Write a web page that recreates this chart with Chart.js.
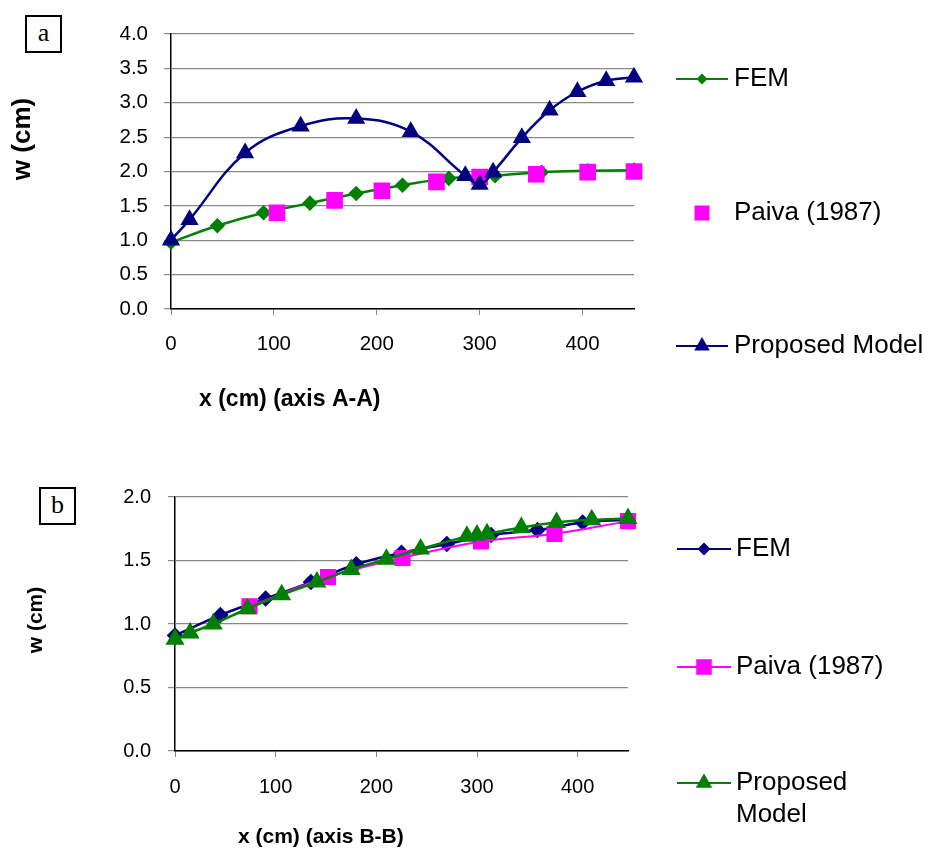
<!DOCTYPE html>
<html>
<head>
<meta charset="utf-8">
<script src="https://cdn.jsdelivr.net/npm/chart.js"></script>
<style>
  body { margin: 0; background: #fff; }
  #page { position: relative; width: 928px; height: 850px; overflow: hidden; background: #fff; }
  canvas { position: absolute; left: 0; }
  .tag {
    position: absolute; box-sizing: border-box; width: 37px; height: 38px;
    border: 2px solid #000; background: #fff;
    font-family: "Liberation Serif", "Times New Roman", serif; font-size: 26px;
    text-align: center; line-height: 32px;
  }
</style>
</head>
<body>
<div id="page">
  <canvas id="chartA" width="928" height="425" style="top:0"></canvas>
  <canvas id="chartB" width="928" height="425" style="top:425px"></canvas>
  <div class="tag" style="left:25px; top:15px">a</div>
  <div class="tag" style="left:39px; top:487px">b</div>
</div>
<script>
const seriesNames = ['FEM', 'Paiva (1987)', 'Proposed Model'];

// panel a - axis A-A
const femXA = [0, 45, 90, 135, 180, 225, 270, 315, 360, 405, 450];
const femWA = [0.97, 1.21, 1.40, 1.54, 1.68, 1.80, 1.90, 1.94, 1.99, 2.01, 2.02];
const paivaXA = [103, 159, 205, 258, 300, 355, 405, 450];
const paivaWA = [1.40, 1.58, 1.72, 1.85, 1.92, 1.96, 1.99, 2.00];
const propXA = [0, 18, 72, 126, 180, 233, 286, 300, 313, 341, 368, 395, 423, 450];
const propWA = [1.00, 1.30, 2.27, 2.66, 2.77, 2.58, 1.94, 1.81, 1.99, 2.49, 2.89, 3.16, 3.32, 3.37];

// panel b - axis B-B
const femXB = [0, 45, 90, 135, 180, 225, 270, 314, 360, 405, 450];
const femWB = [0.91, 1.07, 1.20, 1.33, 1.47, 1.56, 1.63, 1.70, 1.74, 1.80, 1.82];
const paivaXB = [74, 152, 226, 304, 377, 450];
const paivaWB = [1.14, 1.37, 1.52, 1.65, 1.71, 1.81];
const propXB = [0, 15, 38, 72, 106, 141, 175, 210, 244, 290, 300, 310, 344, 379, 414, 450];
const propWB = [0.88, 0.93, 1.00, 1.12, 1.23, 1.33, 1.43, 1.51, 1.59, 1.69, 1.70, 1.71, 1.76, 1.80, 1.82, 1.83];

const NAVY = '#000080';
const GREEN = '#008000';
const MAGENTA = '#FF00FF';
const FONT = '"Liberation Sans", Arial, sans-serif';

Chart.defaults.font.family = FONT;
Chart.defaults.color = '#000';

function toPoints(xs, ys) {
    return xs.map((x, i) => ({ x: x, y: ys[i] }));
}

// marker shapes like chart.js pointStyle, used for the legend
function drawMarker(ctx, style, x, y, r, color) {
    ctx.beginPath();
    if (style === 'rectRot') {
        ctx.moveTo(x, y - r);
        ctx.lineTo(x + r, y);
        ctx.lineTo(x, y + r);
        ctx.lineTo(x - r, y);
    } else if (style === 'rect') {
        const h = r * Math.SQRT1_2;
        ctx.rect(x - h, y - h, 2 * h, 2 * h);
    } else if (style === 'triangle') {
        ctx.moveTo(x, y - r);
        ctx.lineTo(x + r * Math.sin(Math.PI / 3), y + r / 2);
        ctx.lineTo(x - r * Math.sin(Math.PI / 3), y + r / 2);
    }
    ctx.closePath();
    ctx.fillStyle = color;
    ctx.fill();
}

// axis titles and the side legend, placed like the paper figure
const paperDecor = {
    id: 'paperDecor',
    afterDraw(chart, args, opts) {
        const ctx = chart.ctx;
        ctx.save();
        ctx.fillStyle = '#000';
        ctx.textBaseline = 'middle';

        ctx.font = `bold ${opts.xTitle.size}px ${FONT}`;
        ctx.textAlign = 'left';
        ctx.fillText(opts.xTitle.text, opts.xTitle.x, opts.xTitle.y);

        ctx.save();
        ctx.translate(opts.yTitle.x, opts.yTitle.y);
        ctx.rotate(-Math.PI / 2);
        ctx.textAlign = 'center';
        ctx.font = `bold ${opts.yTitle.size}px ${FONT}`;
        ctx.fillText(opts.yTitle.text, 0, 0);
        ctx.restore();

        const lg = opts.legend;
        chart.data.datasets.forEach((ds, i) => {
            const y = lg.y[i];
            if (ds.showLine !== false) {
                ctx.strokeStyle = ds.borderColor;
                ctx.lineWidth = 2;
                ctx.beginPath();
                ctx.moveTo(lg.x0, y);
                ctx.lineTo(lg.x1, y);
                ctx.stroke();
            }
            drawMarker(ctx, ds.pointStyle, (lg.x0 + lg.x1) / 2, y, lg.r[i], ds.pointBackgroundColor);

            // wrap label to the space on the right
            ctx.font = `${lg.size}px ${FONT}`;
            ctx.textAlign = 'left';
            ctx.fillStyle = '#000';
            const words = ds.label.split(' ');
            const lines = [];
            let cur = '';
            words.forEach(w => {
                const test = cur ? cur + ' ' + w : w;
                if (cur && ctx.measureText(test).width > lg.maxWidth) {
                    lines.push(cur);
                    cur = w;
                } else {
                    cur = test;
                }
            });
            lines.push(cur);
            lines.forEach((t, k) => ctx.fillText(t, lg.textX, y + k * lg.lineGap));
        });
        ctx.restore();
    }
};

function makeChart(id, cfg) {
    const ctx = document.getElementById(id).getContext('2d');
    return new Chart(ctx, {
        type: 'line',
        data: { datasets: cfg.datasets },
        options: {
            responsive: false,
            devicePixelRatio: 1,
            animation: false,
            layout: { padding: { left: 0, top: cfg.area.top, right: 928 - cfg.area.right, bottom: 0 } },
            elements: {
                line: { tension: 0.4, cubicInterpolationMode: 'default' },
                point: { borderWidth: 1 }
            },
            scales: {
                x: {
                    type: 'linear',
                    min: 0,
                    max: 450,
                    afterFit: s => { s.height = 425 - cfg.area.bottom; },
                    ticks: {
                        stepSize: 100,
                        includeBounds: false,
                        maxRotation: 0,
                        padding: cfg.xTickPad,
                        font: { size: cfg.tickSize },
                        color: '#000'
                    },
                    grid: { drawOnChartArea: false, tickLength: 6, color: '#888' },
                    border: { color: '#000', width: 1.5 }
                },
                y: {
                    min: 0,
                    max: cfg.yMax,
                    afterFit: s => { s.width = cfg.area.left; },
                    ticks: {
                        stepSize: 0.5,
                        padding: cfg.yTickPad,
                        font: { size: cfg.tickSize },
                        color: '#000',
                        callback: v => v.toFixed(1)
                    },
                    grid: { color: '#888', lineWidth: 1.2, tickLength: 7 },
                    border: { color: '#000', width: 1.5 }
                }
            },
            plugins: {
                legend: { display: false },
                tooltip: { enabled: false },
                paperDecor: cfg.decor
            }
        },
        plugins: [paperDecor]
    });
}

function series(label, xs, ys, color, style, radius, extra) {
    return Object.assign({
        label: label,
        data: toPoints(xs, ys),
        borderColor: color,
        backgroundColor: color,
        pointBackgroundColor: color,
        pointBorderColor: color,
        pointStyle: style,
        pointRadius: radius,
        borderWidth: 2.5,
        clip: false
    }, extra || {});
}

makeChart('chartA', {
    area: { left: 171, right: 634, top: 34, bottom: 309 },
    yMax: 4,
    tickSize: 20.5,
    xTickPad: 17,
    yTickPad: 16,
    datasets: [
        series(seriesNames[0], femXA, femWA, GREEN, 'rectRot', 6, { order: 3 }),
        series(seriesNames[1], paivaXA, paivaWA, MAGENTA, 'rect', 10, { order: 2, showLine: false }),
        series(seriesNames[2], propXA, propWA, NAVY, 'triangle', 8, { order: 1 })
    ],
    decor: {
        xTitle: { text: 'x (cm) (axis A-A)', x: 199, y: 400, size: 23 },
        yTitle: { text: 'w (cm)', x: 23, y: 139, size: 26 },
        legend: { x0: 676, x1: 728, textX: 734, y: [79, 213, 346], size: 26, maxWidth: 200, lineGap: 32, r: [5.5, 10.6, 9] }
    }
});

makeChart('chartB', {
    area: { left: 175, right: 628, top: 72, bottom: 326 },
    yMax: 2,
    tickSize: 20,
    xTickPad: 18,
    yTickPad: 17,
    datasets: [
        series(seriesNames[0], femXB, femWB, NAVY, 'rectRot', 6.5, { order: 3 }),
        series(seriesNames[1], paivaXB, paivaWB, MAGENTA, 'rect', 10, { order: 2, borderWidth: 2 }),
        series(seriesNames[2], propXB, propWB, GREEN, 'triangle', 8.5, { order: 1 })
    ],
    decor: {
        xTitle: { text: 'x (cm) (axis B-B)', x: 238, y: 412, size: 21 },
        yTitle: { text: 'w (cm)', x: 36, y: 195, size: 21 },
        legend: { x0: 677, x1: 731, textX: 736, y: [124, 242, 358], size: 26, maxWidth: 170, lineGap: 32, r: [6.5, 11, 9.5] }
    }
});
</script>
</body>
</html>
